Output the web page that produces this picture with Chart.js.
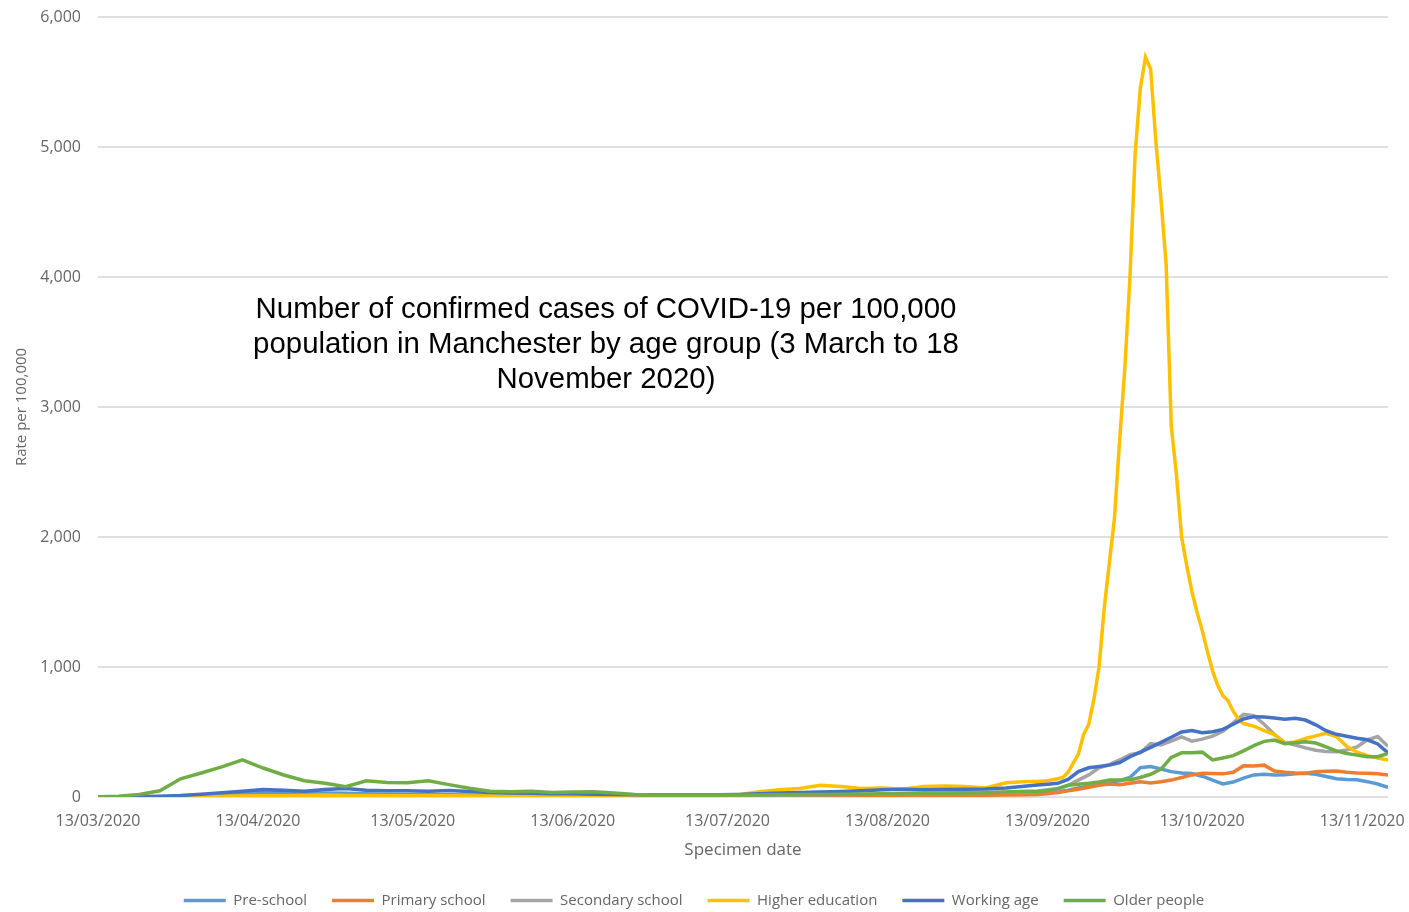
<!DOCTYPE html>
<html>
<head>
<meta charset="utf-8">
<title>COVID-19 rate by age group, Manchester</title>
<script src="https://cdn.jsdelivr.net/npm/chart.js@4.4.1/dist/chart.umd.min.js"></script>
<style>
  body { margin: 0; background: #fff; }
  #wrap { position: relative; width: 1409px; height: 912px; }
  #title {
    position: absolute; left: 156px; top: 290px; width: 900px;
    font-family: "Liberation Sans", Arial, sans-serif; font-size: 29.4px;
    line-height: 35px; text-align: center; color: #000;
  }
</style>
</head>
<body>
<div id="wrap">
  <canvas id="chart" width="1409" height="912"></canvas>
  <div id="title">Number of confirmed cases of COVID-19 per 100,000<br>population in Manchester by age group (3 March to 18<br>November 2020)</div>
</div>
<script>
// days since 13/03/2020
const days = [0,4,8,12,16,20,24,28,32,36,40,44,48,52,56,60,64,68,72,76,80,84,88,92,96,100,
  104,108,112,116,120,124,128,132,136,140,144,148,152,156,160,164,168,172,176,180,
  182,184,186,188,190,192,194,196,198,200,202,204,206,208,210,212,214,216,218,220,
  222,224,226,228,230,232,234,236,238,240,242,244,246,248,250];

const preSchool = [0,0,1,2,4,8,15,25,35,38,32,30,28,25,22,20,20,18,16,14,12,12,11,10,10,9,
  8,8,8,8,8,10,12,12,14,15,14,15,18,20,18,20,22,24,26,28,
  30,35,40,52,70,85,95,115,125,150,225,235,215,195,185,180,160,130,100,115,
  145,170,175,170,172,178,182,175,158,140,135,132,118,100,75];

const primarySchool = [0,0,0,1,2,3,4,5,6,6,6,5,5,5,4,4,4,4,3,3,3,3,3,3,3,3,
  3,3,3,4,4,5,6,6,7,8,8,8,9,10,10,10,12,14,16,18,
  20,25,35,48,60,75,90,100,95,105,118,108,118,130,150,170,182,180,178,190,
  240,238,245,200,190,185,182,195,198,200,190,185,182,178,170];

const secondarySchool = [0,0,0,1,2,3,4,6,8,10,10,10,10,9,9,8,8,8,8,7,7,7,7,6,6,6,
  6,6,6,7,8,10,12,14,16,18,20,22,24,26,28,30,32,34,36,40,
  45,55,62,90,130,170,225,250,285,325,340,410,400,430,462,430,445,468,505,570,
  635,625,560,480,420,400,378,360,350,349,362,385,440,465,390];

const workingAge = [0,1,3,6,12,22,32,45,57,52,44,58,65,52,48,48,44,50,42,35,30,28,25,25,22,20,
  18,18,17,18,18,20,25,30,35,38,42,48,55,60,55,58,60,62,70,85,
  92,98,105,135,195,225,235,245,265,310,345,382,420,460,500,512,495,502,520,560,
  600,618,615,608,598,605,592,555,510,482,468,452,440,408,340];

const olderPeople = [2,5,20,48,140,185,232,285,223,169,125,105,79,125,112,110,125,95,67,45,40,45,35,38,40,30,
  20,15,15,15,15,15,15,18,20,20,22,22,25,25,28,28,30,32,38,45,
  42,50,65,90,98,105,115,130,130,132,150,175,215,305,340,340,345,285,300,318,
  355,395,428,438,410,418,425,415,385,355,335,322,310,310,335];

// higher education is sampled more densely round its peak
const heDays = [0,4,8,12,16,20,24,28,32,36,40,44,48,52,56,60,64,68,72,76,80,84,88,92,96,100,
  104,108,112,116,120,124,128,132,136,140,144,148,152,156,160,164,168,172,176,180,
  182,184,186,187,188,189,190,191,192,193,194,195,196,197,198,199,200,201,202,203,204,
  205,206,207,208,209,210,211,212,213,214,215,216,217,218,219,220,221,222,
  224,226,228,230,232,234,236,238,240,242,244,246,248,250];

const higherEducation = [0,0,0,0,0,3,5,8,10,10,12,15,12,12,10,10,12,10,8,8,8,8,8,10,10,10,
  12,10,10,8,10,15,40,55,65,90,80,65,70,60,80,85,80,70,110,120,
  120,125,140,150,190,260,330,480,560,750,1000,1450,1800,2150,2750,3300,4000,4950,5450,5690,5600,
  5050,4600,4100,2850,2480,2000,1780,1580,1420,1280,1120,970,860,780,740,660,600,565,
  545,510,480,415,423,450,470,490,465,390,345,318,300,285];

const tickDays = [0,31,61,92,122,153,184,214,245];
const tickLabels = ['13/03/2020','13/04/2020','13/05/2020','13/06/2020','13/07/2020',
  '13/08/2020','13/09/2020','13/10/2020','13/11/2020'];

const seriesNames = ['Pre-school','Primary school','Secondary school','Higher education','Working age','Older people'];
const seriesColors = ['#5B9BD5','#ED7D31','#A5A5A5','#FFC000','#4472C4','#70AD47'];

function points(xs, ys) {
  return ys.map((y, i) => ({ x: xs[i], y: y }));
}

const seriesData = [
  points(days, preSchool),
  points(days, primarySchool),
  points(days, secondarySchool),
  points(heDays, higherEducation),
  points(days, workingAge),
  points(days, olderPeople)
];

const grey = '#666666';
const font = 'Open Sans';

new Chart(document.getElementById('chart').getContext('2d'), {
  type: 'line',
  data: {
    datasets: seriesNames.map((name, i) => ({
      label: name,
      data: seriesData[i],
      borderColor: seriesColors[i],
      backgroundColor: seriesColors[i],
      borderWidth: 3.5,
      pointRadius: 0,
      tension: 0,
      order: seriesNames.length - i
    }))
  },
  options: {
    responsive: false,
    animation: false,
    layout: { padding: { top: 17, right: 21, left: 0, bottom: 0 } },
    plugins: {
      tooltip: { enabled: false },
      legend: {
        position: 'bottom',
        maxHeight: 44,
        labels: {
          usePointStyle: true,
          pointStyle: 'line',
          pointStyleWidth: 42,
          padding: 25,
          color: grey,
          font: { family: font, size: 15 },
          sort: (a, b) => a.datasetIndex - b.datasetIndex
        }
      }
    },
    scales: {
      x: {
        type: 'linear',
        min: 0,
        max: 250,
        afterBuildTicks: (axis) => { axis.ticks = tickDays.map(v => ({ value: v })); },
        afterFit: (axis) => {
          axis.height = 71;
          axis.paddingLeft = 0;
          axis.paddingRight = 0;
        },
        grid: { display: false },
        border: { display: false },
        ticks: {
          autoSkip: false,
          maxRotation: 0,
          padding: 7,
          color: grey,
          font: { family: font, size: 16 },
          callback: (v) => tickLabels[tickDays.indexOf(v)]
        },
        title: {
          display: true,
          text: 'Specimen date',
          color: grey,
          font: { family: font, size: 17 },
          padding: { top: 0, bottom: 8 }
        }
      },
      y: {
        min: 0,
        max: 6000,
        afterFit: (axis) => {
          axis.width = 98;
          axis.paddingTop = 0;
          axis.paddingBottom = 0;
        },
        grid: { color: '#e0e0e0', lineWidth: 2, drawTicks: false },
        border: { display: false },
        ticks: {
          stepSize: 1000,
          padding: 17,
          color: grey,
          font: { family: font, size: 16 },
          callback: (v) => String(v).replace(/\B(?=(\d{3})+(?!\d))/g, ',')
        },
        title: {
          display: true,
          text: 'Rate per 100,000',
          color: grey,
          font: { family: font, size: 15 },
          padding: { top: 13, bottom: 0 }
        }
      }
    }
  }
});
</script>
</body>
</html>
